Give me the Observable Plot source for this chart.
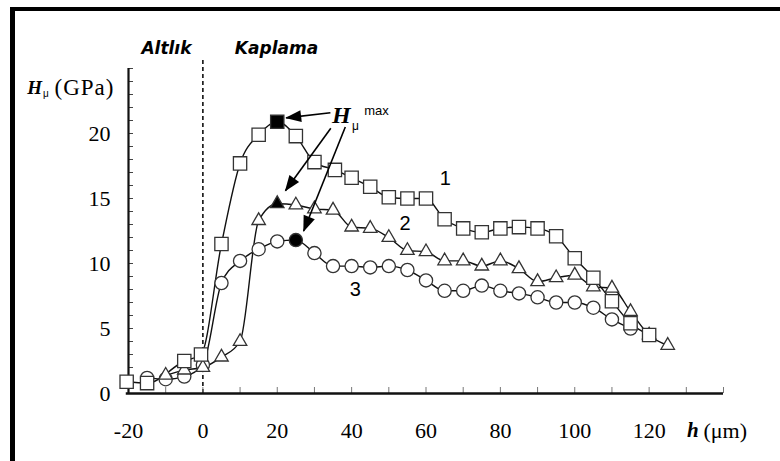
<!DOCTYPE html>
<html><head><meta charset="utf-8">
<script src="https://cdn.jsdelivr.net/npm/d3@7"></script>
<script src="https://cdn.jsdelivr.net/npm/@observablehq/plot@0.6"></script>
<style>
html,body{margin:0;padding:0;background:#fff;}
#wrap{position:relative;width:780px;height:461px;overflow:hidden;background:#fff;}
#wrap svg{position:absolute;left:0;top:0;}
.bl{position:absolute;left:10px;top:7px;width:5px;height:454px;background:#000;}
.bt{position:absolute;left:10px;top:7px;width:770px;height:4px;background:#000;}
</style></head><body>
<div id="wrap"></div>
<script>
// ---- data ----
const s1x = [-20.5,-15,-5,-0.5,5,10,15,20,25,30,35.5,40,45,50,55,60,65,70,75,80,85,90,95,100,105,110,115,120];
const s1y = [0.9,0.8,2.5,3.0,11.5,17.7,19.9,20.9,19.8,17.8,17.2,16.6,15.9,15.1,15.0,15.0,13.4,12.7,12.4,12.7,12.8,12.7,12.1,10.4,8.9,7.1,5.4,4.5];
const s2x = [-10,-5,0,5,10,15,20,25,30,35,40,45,50,55,60,65,70,75,80,85,90,95,100,105,110,115,120,125];
const s2y = [1.4,1.8,2.0,2.8,4.0,13.3,14.6,14.5,14.2,14.1,12.8,12.7,12.0,11.0,10.9,10.2,10.2,9.8,10.2,9.6,8.6,8.9,9.1,8.2,8.1,6.3,4.5,3.7];
const s3x = [-15,-10,-5,0,5,10,15,20,25,30,35,40,45,50,55,60,65,70,75,80,85,90,95,100,105,110,115];
const s3y = [1.2,1.1,1.3,2.2,8.5,10.2,11.1,11.7,11.8,10.8,9.8,9.8,9.7,9.8,9.5,8.7,7.9,7.9,8.3,7.9,7.7,7.4,7.0,7.0,6.6,5.7,5.0];
const maxX = [20, 20, 25];           // positions of the H_mu max (filled) points for series 1,2,3
const xTicks = [-20,0,20,40,60,80,100,120];
const yTicks = [0,5,10,15,20];
const seriesLabels = ["1","2","3"];
const seriesLabelX = [65.2, 54.4, 41];
const seriesLabelY = [16.5, 13.1, 8.0];
const regionLabels = ["Altlık","Kaplama"];
const regionLabelX = [-9.8, 19.8];
const regionLabelY = [26.5, 26.5];
const arrowX1 = [34.3, 34.4, 38.3];
const arrowY1 = [21.6, 20.4, 20.5];
const arrowX2 = [22.4, 22.2, 27.1];
const arrowY2 = [21.2, 15.6, 12.5];

// ---- tables ----
const mk = (xs, ys, fx) => xs.map((x, i) => ({x, y: ys[i], filled: x === fx}));
const d1 = mk(s1x, s1y, maxX[0]);
const d2 = mk(s2x, s2y, maxX[1]);
const d3s = mk(s3x, s3y, maxX[2]);
const arrows = arrowX1.map((x, i) => ({x1: x, y1: arrowY1[i], x2: arrowX2[i], y2: arrowY2[i]}));

const filledHead = (color, context) => {
  const m = d3.create("svg:marker")
    .attr("viewBox", "0 -6 16 12")
    .attr("markerUnits", "userSpaceOnUse")
    .attr("markerWidth", 16).attr("markerHeight", 12)
    .attr("refX", 15).attr("refY", 0)
    .attr("orient", "auto")
    .attr("overflow", "visible");
  m.append("path").attr("d", "M0,-6L16,0L0,6Z").attr("fill", "#000").attr("stroke", "none");
  return m.node();
};

const serif = "'Liberation Serif', 'Times New Roman', serif";
const sans = "'Liberation Sans', Arial, sans-serif";
const markStroke = "#333";

const chart = Plot.plot({
  width: 780, height: 461,
  marginLeft: 128, marginRight: 57, marginTop: 68, marginBottom: 68,
  x: {domain: [-20, 140]},
  y: {domain: [0, 25]},
  style: {background: "transparent", overflow: "visible", color: "#000"},
  marks: [
    // dashed interface line
    Plot.ruleX([0], {y1: 0, y2: 25.8, stroke: "#111", strokeWidth: 1.6, strokeDasharray: "4,3"}),
    // axes
    Plot.axisY({ticks: d3.range(0, 26, 1), tickSize: -5, fill: "none", stroke: "#444", label: null}),
    Plot.axisY({ticks: yTicks, tickSize: 0, tickPadding: 18, label: null, fontFamily: serif, fontSize: 22, tickFormat: d => String(d)}),
    Plot.axisX({ticks: d3.range(-20, 141, 10), tickSize: -6, fill: "none", stroke: "#777", label: null}),
    Plot.axisX({ticks: xTicks, tickSize: 0, tickPadding: 29, label: null, fontFamily: serif, fontSize: 22, tickFormat: d => String(d)}),
    Plot.ruleX([-20], {y1: 0, y2: 25, stroke: "#111", strokeWidth: 2.2}),
    Plot.ruleY([0], {x1: -20.6, x2: 140, stroke: "#111", strokeWidth: 2.6}),
    // lines
    Plot.line(d1, {x: "x", y: "y", curve: "monotone-x", stroke: "#111", strokeWidth: 1.4}),
    Plot.line(d2, {x: "x", y: "y", curve: "monotone-x", stroke: "#111", strokeWidth: 1.4}),
    Plot.line(d3s, {x: "x", y: "y", curve: "monotone-x", stroke: "#111", strokeWidth: 1.4}),
    // markers
    Plot.dot(d3s, {x: "x", y: "y", symbol: "circle", r: 6.6, fill: d => d.filled ? "#000" : "#fff", stroke: markStroke, strokeWidth: 1.3}),
    Plot.dot(d2, {x: "x", y: "y", symbol: "triangle", r: 5.0, fill: d => d.filled ? "#000" : "#fff", stroke: markStroke, strokeWidth: 1.3}),
    Plot.dot(d1, {x: "x", y: "y", symbol: "square", r: 7.5, fill: d => d.filled ? "#000" : "#fff", stroke: markStroke, strokeWidth: 1.3}),
    // arrows to the maxima
    Plot.link(arrows, {x1: "x1", y1: "y1", x2: "x2", y2: "y2", stroke: "#000", strokeWidth: 1.6, markerEnd: filledHead}),
    // annotations
    Plot.text(["H"], {x: 37.2, y: 21.4, text: d => d, fontFamily: serif, fontWeight: "bold", fontStyle: "italic", fontSize: 24}),
    Plot.text(["μ"], {x: 41.0, y: 20.55, text: d => d, fontFamily: sans, fontSize: 12}),
    Plot.text(["max"], {x: 46.7, y: 21.75, text: d => d, fontFamily: sans, fontSize: 13}),
    Plot.text(seriesLabels, {x: (d, i) => seriesLabelX[i], y: (d, i) => seriesLabelY[i], text: d => d, fontFamily: sans, fontSize: 20}),
    Plot.text(regionLabels, {x: (d, i) => regionLabelX[i], y: (d, i) => regionLabelY[i], text: d => d, fontFamily: "'DejaVu Sans', Verdana, sans-serif", fontWeight: "bold", fontStyle: "italic", fontSize: 17}),
    // y-axis title H_mu (GPa)
    Plot.text(["H"], {x: -47.2, y: 23.5, text: d => d, textAnchor: "start", fontFamily: serif, fontWeight: "bold", fontStyle: "italic", fontSize: 19}),
    Plot.text(["μ"], {x: -43.0, y: 23.05, text: d => d, textAnchor: "start", fontFamily: sans, fontSize: 10}),
    Plot.text(["(GPa)"], {x: -39.9, y: 23.5, text: d => d, textAnchor: "start", fontFamily: serif, fontSize: 23}),
    // x-axis title h (μm)
    Plot.text(["h"], {x: 130.2, y: -2.85, text: d => d, textAnchor: "start", fontFamily: serif, fontWeight: "bold", fontStyle: "italic", fontSize: 21}),
    Plot.text(["(μm)"], {x: 134.6, y: -2.85, text: d => d, textAnchor: "start", fontFamily: serif, fontSize: 22})
  ]
});

// slightly widen the (GPa) unit to match the reference
d3.select(chart).selectAll("text").filter(function () { return this.textContent === "(GPa)"; }).attr("letter-spacing", "1px");

const wrap = document.getElementById("wrap");
wrap.appendChild(chart);
const bl = document.createElement("div"); bl.className = "bl"; wrap.appendChild(bl);
const bt = document.createElement("div"); bt.className = "bt"; wrap.appendChild(bt);
</script>
</body></html>
